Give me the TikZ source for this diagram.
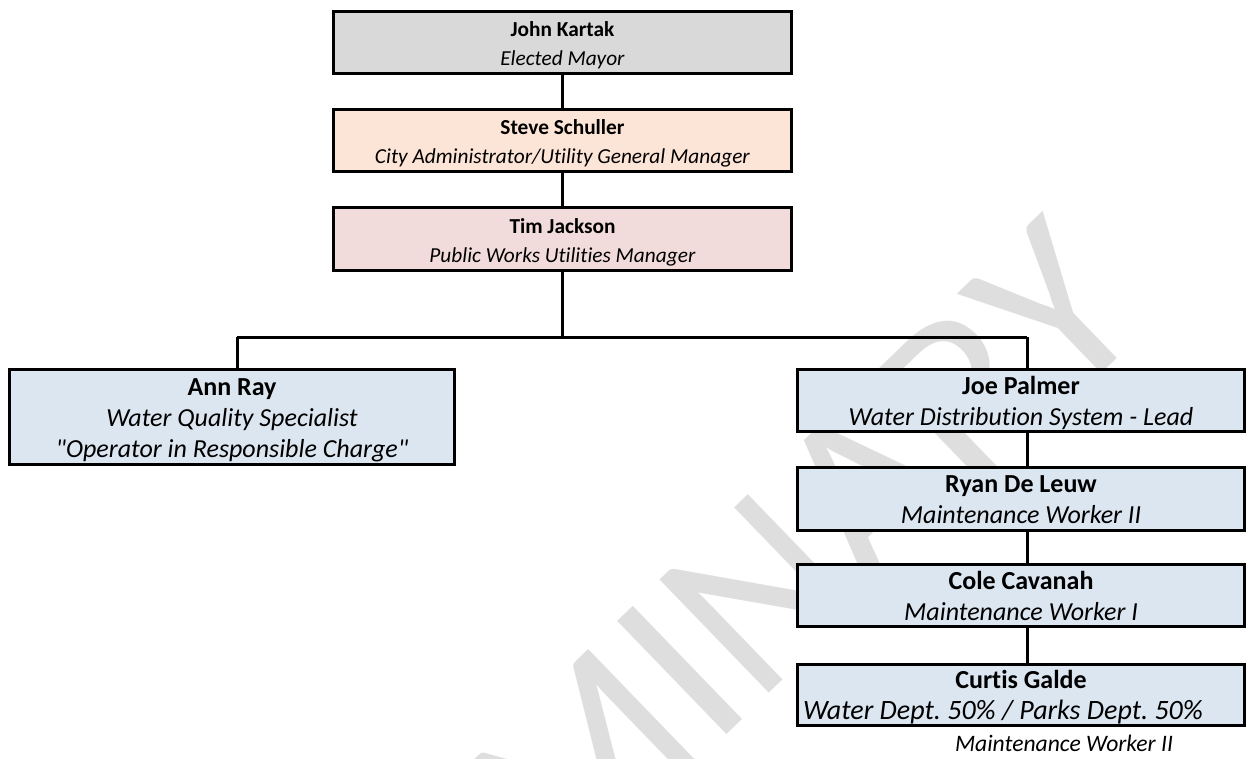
\documentclass[tikz,border=0pt]{standalone}
\usepackage{fontspec}
\setmainfont{Carlito}[Ligatures={TeX,NoCommon}]
\definecolor{mayorfill}{RGB}{217,217,217}
\definecolor{adminfill}{RGB}{252,228,214}
\definecolor{pwfill}{RGB}{242,220,219}
\definecolor{stafffill}{RGB}{220,230,241}
\definecolor{wmgray}{RGB}{222,222,222}
% invisible struts fixing the first line's height and the last line's depth
\newcommand\toprl[1]{\rule{0pt}{#1}}
\newcommand\botrl[1]{\rule[-#1]{0pt}{#1}}
\frenchspacing
\begin{document}
\begin{tikzpicture}[x=0.75pt,y=-0.75pt,
  box/.style={draw=black, line width=2.25pt, align=center, inner sep=0pt},
  small/.style={font=\fontsize{16}{21.75}\selectfont},
  large/.style={font=\fontsize{19.5}{23.25}\selectfont},
  link/.style={draw=black, line width=2.25pt},
  wide/.style={minimum width=343.5pt},
  col/.style={minimum width=335.25pt, fill=stafffill},
]
\useasboundingbox (0,0) rectangle (1248,759);
\clip (0,0) rectangle (1248,759);

% watermark behind everything
\node[rotate=44, inner sep=0pt, text=wmgray,
  font=\fontsize{184}{184}\selectfont] (wm) at (606,742) {PRELIMINARY};

% chain of command
\node[box, small, wide, minimum height=46.5pt, fill=mayorfill] (jk) at (562.5,42.5)
  {\toprl{17.5pt}\textbf{John Kartak}\\\textit{Elected Mayor}\botrl{4pt}};
\node[box, small, wide, minimum height=46.5pt, fill=adminfill] (ss) at (562.5,140.5)
  {\toprl{17.5pt}\textbf{Steve Schuller}\\\textit{City Administrator/Utility General Manager}\botrl{4pt}};
\node[box, small, wide, minimum height=47.25pt, fill=pwfill] (tj) at (562.5,239)
  {\toprl{17.5pt}\textbf{Tim Jackson}\\\textit{Public Works Utilities Manager}\botrl{4pt}};

\node[box, large, minimum width=333.75pt, minimum height=71.25pt, fill=stafffill] (ar) at (232,417)
  {\toprl{18pt}\textbf{Ann Ray}\\\textit{Water Quality Specialist}\\
   \textit{\textquotedbl Operator in Responsible Charge\textquotedbl}\botrl{4.5pt}};

\node[box, large, col, minimum height=46.5pt] (jp) at (1021,400.5)
  {\toprl{18pt}\textbf{Joe Palmer}\\\textit{Water Distribution System - Lead}\botrl{4.5pt}};
\node[box, large, col, minimum height=47.25pt] (rd) at (1021,499)
  {\toprl{18pt}\textbf{Ryan De Leuw}\\\textit{Maintenance Worker II}\botrl{4.5pt}};
\node[box, large, col, minimum height=46.5pt] (cc) at (1021,595.5)
  {\toprl{18pt}\textbf{Cole Cavanah}\\\textit{Maintenance Worker I}\botrl{4.5pt}};
\node[box, large, col, minimum height=45.75pt] (cg) at (1021,695)
  {\toprl{18pt}\textbf{Curtis Galde}\\
   \makebox[0pt]{\kern-27pt\fontsize{21}{23.25}\selectfont\itshape Water Dept. 50\% / Parks Dept. 50\%}\botrl{4.5pt}};
\node[inner sep=0pt, font=\fontsize{17.7}{21}\selectfont\itshape] (cgnote) at (1064,743)
  {Maintenance Worker II};

% connectors
\coordinate (busL) at (237,337);
\coordinate (busR) at (1027,337);
\draw[link] (jk.south) -- (ss.north);
\draw[link] (ss.south) -- (tj.north);
\draw[link] (tj.south) -- (tj.south |- busL);
\draw[link] (busL) -- (busR);
\draw[link] (busL) -- (busL |- ar.north);
\draw[link] (busR) -- (busR |- jp.north);
\draw[link] (busR |- jp.south) -- (busR |- rd.north);
\draw[link] (busR |- rd.south) -- (busR |- cc.north);
\draw[link] (busR |- cc.south) -- (busR |- cg.north);
\end{tikzpicture}
\end{document}
